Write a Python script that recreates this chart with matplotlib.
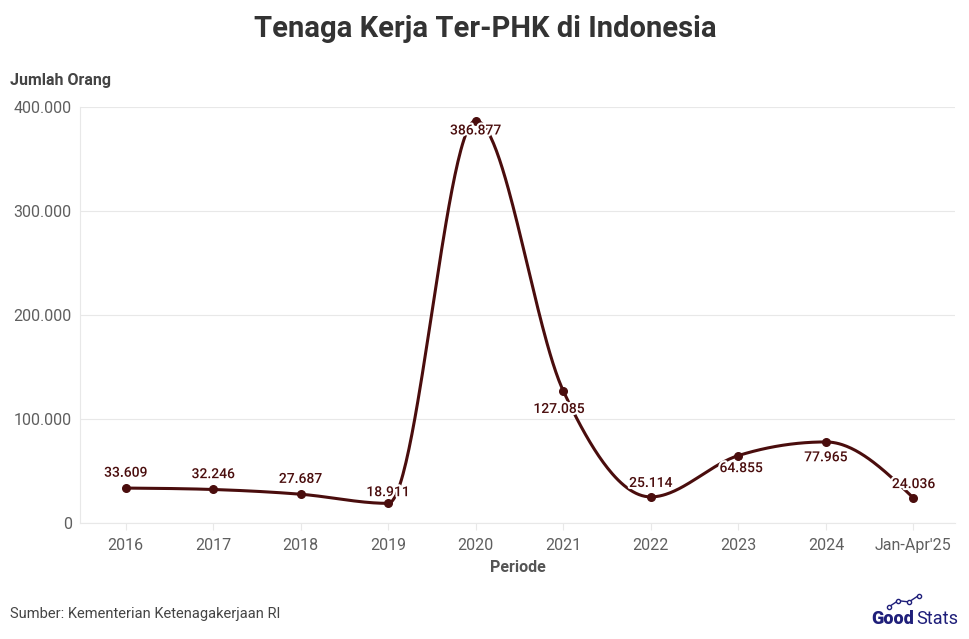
import numpy as np
import matplotlib
matplotlib.use('Agg')
import matplotlib.pyplot as plt
import matplotlib.patheffects as pe
from matplotlib.ticker import FuncFormatter

periods = ['2016', '2017', '2018', '2019', '2020', '2021', '2022', '2023', '2024', "Jan-Apr'25"]
workers = [33609, 32246, 27687, 18911, 386877, 127085, 25114, 64855, 77965, 24036]
# where each label sits relative to its point (dx, dy in points)
label_offsets = [(0, 6), (0, 6), (0, 6), (0, 3), (0, -2), (-3, -8), (0, 5), (2, -4), (0, -6), (0, 5)]

plt.rcParams['font.family'] = ['Roboto', 'DejaVu Sans']
line_color = '#4a0d0d'
text_color = '#333333'


def fmt(v):
    return f'{v:,.0f}'.replace(',', '.')


def monotone(xs, ys, n=60):
    # monotone cubic (Fritsch-Carlson, like d3.curveMonotoneX)
    x = np.asarray(xs, float)
    y = np.asarray(ys, float)
    h = np.diff(x)
    s = np.diff(y) / h
    m = np.zeros_like(y)
    for i in range(1, len(y) - 1):
        p = (s[i - 1] * h[i] + s[i] * h[i - 1]) / (h[i - 1] + h[i])
        m[i] = (np.sign(s[i - 1]) + np.sign(s[i])) * min(abs(s[i - 1]), abs(s[i]), 0.5 * abs(p))
    m[0] = (3 * s[0] - m[1]) / 2
    m[-1] = (3 * s[-1] - m[-2]) / 2
    out_x, out_y = [], []
    t = np.linspace(0, 1, n)
    for i in range(len(y) - 1):
        h00 = 2 * t**3 - 3 * t**2 + 1
        h10 = t**3 - 2 * t**2 + t
        h01 = -2 * t**3 + 3 * t**2
        h11 = t**3 - t**2
        out_x.extend(x[i] + t * h[i])
        out_y.extend(h00 * y[i] + h10 * h[i] * m[i] + h01 * y[i + 1] + h11 * h[i] * m[i + 1])
    return np.array(out_x), np.array(out_y)


fig = plt.figure(figsize=(9.7, 6.39), dpi=100)
ax = fig.add_axes([0.0825, 0.1815, 0.9025, 0.651])

xs = np.arange(len(periods))
sx, sy = monotone(xs, workers)
ax.plot(sx, sy, color=line_color, linewidth=2.2, zorder=3, solid_capstyle='round')
ax.scatter(xs, workers, s=30, color=line_color, zorder=4)

for x, v, (dx, dy) in zip(xs, workers, label_offsets):
    ax.annotate(fmt(v), (x, v), xytext=(dx, dy), textcoords='offset points',
                ha='center', va='bottom' if dy > 0 else 'top',
                fontsize=10, fontweight='medium', color=line_color, zorder=5,
                path_effects=[pe.withStroke(linewidth=3, foreground='white')])

ax.set_xlim(-0.52, 9.48)
ax.set_ylim(0, 400000)
ax.set_yticks([0, 100000, 200000, 300000, 400000])
ax.yaxis.set_major_formatter(FuncFormatter(lambda v, _: fmt(v)))
ax.set_xticks(xs)
ax.set_xticklabels(periods)
ax.grid(axis='y', color='#e8e8e8', linewidth=0.8)
ax.set_axisbelow(True)
for s in ['top', 'right']:
    ax.spines[s].set_visible(False)
ax.spines['left'].set_color('#e8e8e8')
ax.spines['bottom'].set_color('#e8e8e8')
ax.tick_params(axis='y', length=0, pad=6, labelsize=11.5, labelcolor='#5f5f5f')
ax.tick_params(axis='x', length=5, color='#e8e8e8', pad=6, labelsize=11.5, labelcolor='#5f5f5f')

fig.text(0.5, 0.955, 'Tenaga Kerja Ter-PHK di Indonesia', ha='center', va='center',
         fontsize=21, fontweight='bold', color=text_color)
fig.text(0.0105, 0.874, 'Jumlah Orang', ha='left', va='center',
         fontsize=11.5, fontweight='bold', color='#444444')
fig.text(0.534, 0.112, 'Periode', ha='center', va='center',
         fontsize=11.5, fontweight='bold', color='#555555')
fig.text(0.0105, 0.039, 'Sumber: Kementerian Ketenagakerjaan RI', ha='left', va='center',
         fontsize=10.5, color='#444444')

navy = '#1f1f7a'
fig.text(0.898, 0.032, 'Good', ha='left', va='center', fontsize=13,
         fontweight='heavy', color=navy)
fig.text(0.945, 0.032, 'Stats', ha='left', va='center', fontsize=13, color=navy)
fig.lines.append(plt.Line2D([0.916, 0.926, 0.937, 0.947], [0.050, 0.060, 0.058, 0.068],
                            transform=fig.transFigure, color=navy, linewidth=1,
                            marker='o', markersize=3, markerfacecolor='white'))

fig.savefig('out.png', dpi=100)
